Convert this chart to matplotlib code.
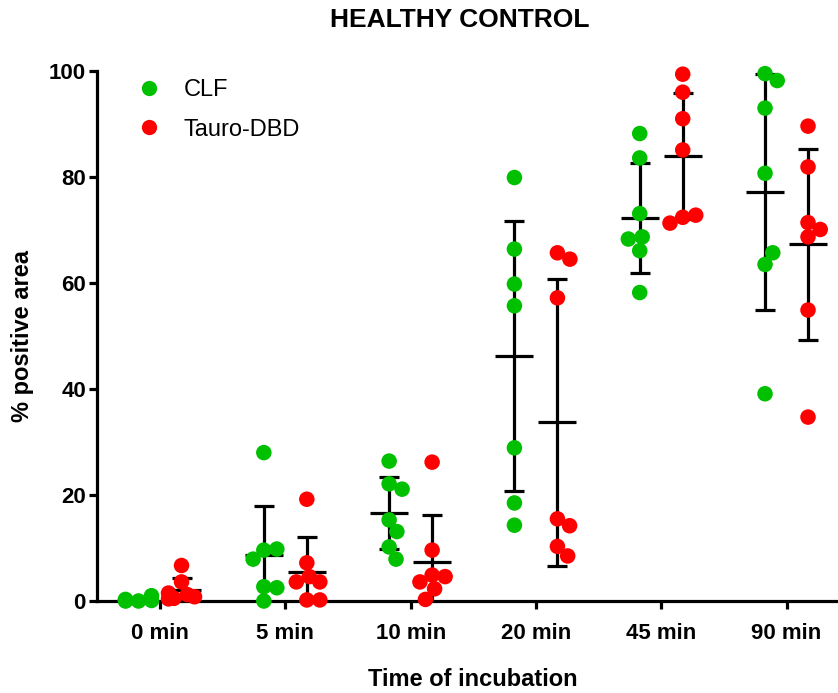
import matplotlib.pyplot as plt
from matplotlib.lines import Line2D
import numpy as np

# ==============================
# Data
# ==============================
times = ["0 min", "5 min", "10 min", "20 min", "45 min", "90 min"]

clf = [
    [0.0, 1.0, 0.3, 0.1, 0.2, 0.0, 0.1],
    [9.6, 9.8, 28.0, 7.9, 2.7, 2.5, 0.0],
    [26.4, 22.1, 21.1, 15.3, 13.1, 10.2, 7.9],
    [79.9, 66.4, 59.8, 55.7, 28.9, 18.5, 14.3],
    [88.2, 83.6, 73.1, 66.1, 68.7, 68.3, 58.2],
    [99.5, 98.2, 93.0, 80.7, 63.5, 65.7, 39.1],
]

tauro = [
    [6.7, 3.6, 1.2, 0.5, 0.8, 1.5, 0.4],
    [19.2, 7.2, 4.6, 3.6, 3.6, 0.2, 0.2],
    [26.2, 9.6, 4.9, 4.6, 3.6, 2.3, 0.3],
    [57.2, 65.7, 64.5, 15.5, 14.2, 10.3, 8.5],
    [99.4, 96.0, 91.0, 85.1, 72.4, 72.8, 71.3],
    [89.6, 81.9, 68.7, 71.4, 70.1, 54.9, 34.7],
]

green = "#00c000"
red = "#ff0000"

# ==============================
# Figure layout
# ==============================
W, H = 838, 693
fig = plt.figure(figsize=(W / 100, H / 100), dpi=100)
ax_left, ax_right, ax_bottom, ax_top = 97, 836, 601, 71
ax = fig.add_axes([ax_left / W, (H - ax_bottom) / H,
                   (ax_right - ax_left) / W, (ax_bottom - ax_top) / H])

x_step = 125.3
x_min = -0.503
x_max = x_min + (ax_right - ax_left) / x_step
ax.set_xlim(x_min, x_max)
ax.set_ylim(0, 100)

px_y = (ax_bottom - ax_top) / 100.0   # pixels per % unit


def swarm(values, d=14.0, max_w=13.0):
    # beeswarm offsets in pixels, closest-to-centre first
    placed = []
    out = []
    for v in values:
        y = v * px_y
        cands = [0.0]
        for px, py in placed:
            dy = abs(y - py)
            if dy < d:
                dx = np.sqrt(d * d - dy * dy)
                cands += [px + dx, px - dx]
        cands.sort(key=abs)
        best = None
        for c in cands:
            if all((c - px) ** 2 + (y - py) ** 2 >= d * d - 1e-6 for px, py in placed):
                best = c
                break
        if best is None:
            best = max_w
        best = float(np.clip(best, -max_w, max_w))
        placed.append((best, y))
        out.append(best)
    return np.array(out) / x_step


group_off = 21.5 / x_step
lw = 2.3

for i in range(len(times)):
    for vals, col, sign in [(clf[i], green, -1), (tauro[i], red, 1)]:
        vals = np.array(vals)
        xc = i + sign * group_off
        m = vals.mean()
        sd = vals.std(ddof=1)
        ax.errorbar(xc, m, yerr=sd, fmt="none", ecolor="black",
                    elinewidth=lw, capsize=7.2, capthick=lw, zorder=2)
        ax.plot([xc], [m], marker="_", markersize=27, markeredgewidth=lw,
                color="black", zorder=2)
        ax.scatter(xc + swarm(vals), vals, s=125, color=col,
                   edgecolors="none", zorder=3, clip_on=False)

# ==============================
# Axes styling
# ==============================
for s in ["top", "right"]:
    ax.spines[s].set_visible(False)
for s in ["left", "bottom"]:
    ax.spines[s].set_linewidth(lw)

ax.set_xticks(range(len(times)))
ax.set_xticklabels(times, fontsize=16, fontweight="bold",
                   family="Liberation Sans")
ax.set_yticks([0, 20, 40, 60, 80, 100])
ax.set_yticklabels(["0", "20", "40", "60", "80", "100"], fontsize=16,
                   fontweight="bold", family="Liberation Sans")
ax.tick_params(axis="both", length=6, width=lw, pad=2)
ax.tick_params(axis="x", pad=10)

fig.text(23 / W, 1 - 336 / H, "% positive area", rotation=90, ha="center",
         va="center", fontsize=17, fontweight="bold", family="Liberation Sans")
fig.text(473 / W, 1 - 680 / H, "Time of incubation", ha="center",
         va="center", fontsize=17, fontweight="bold", family="Liberation Sans")
fig.text(460 / W, 1 - 20 / H, "HEALTHY CONTROL", ha="center", va="center",
         fontsize=19, fontweight="bold", family="Liberation Sans")

handles = [
    Line2D([], [], marker="o", linestyle="none", markersize=11,
           markerfacecolor=green, markeredgecolor="none", label="CLF"),
    Line2D([], [], marker="o", linestyle="none", markersize=11,
           markerfacecolor=red, markeredgecolor="none", label="Tauro-DBD"),
]
ax.legend(handles=handles, loc="upper left", bbox_to_anchor=(0.025, 1.025),
          frameon=False, prop={"family": "Liberation Sans", "size": 17},
          handlelength=1.0, handletextpad=1.0, labelspacing=0.75)

fig.savefig("out.png", dpi=100)
